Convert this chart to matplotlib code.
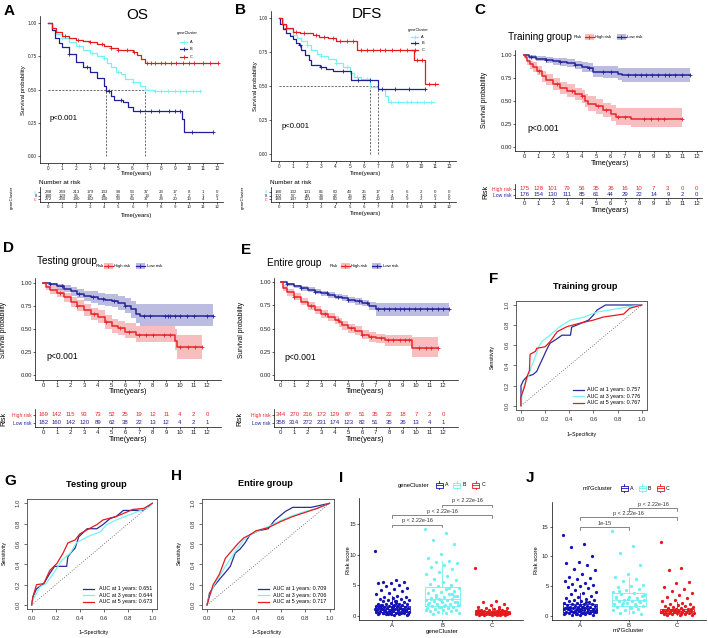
import numpy as np
import matplotlib
matplotlib.use("Agg")
import matplotlib.pyplot as plt
from matplotlib.patches import Rectangle

plt.rcParams['font.family'] = ['Liberation Sans', 'DejaVu Sans']
plt.rcParams['axes.linewidth'] = 0.5

W, H = 708, 638

NAVY = '#1f1f96'
CYAN = '#74f4f4'
RED = '#e41a1c'

years = list(range(13))

# ---------- A: OS by geneCluster ----------
os_A_t = [0, 0.3, 0.6, 1.0, 1.5, 2.0, 2.5, 3.0, 3.5, 4.0, 4.2, 4.5, 4.8, 5.2, 5.5, 6.0, 6.5, 6.9, 7.5, 10.8]
os_A_s = [1.0, 0.95, 0.92, 0.89, 0.855, 0.83, 0.80, 0.775, 0.755, 0.735, 0.70, 0.67, 0.63, 0.62, 0.58, 0.555, 0.525, 0.495, 0.485, 0.485]
os_B_t = [0, 0.25, 0.5, 0.75, 1.0, 1.5, 2.0, 2.5, 3.0, 3.5, 4.0, 4.15, 4.5, 4.7, 5.3, 5.7, 6.0, 9.5, 9.65, 11.7]
os_B_s = [1.0, 0.95, 0.89, 0.85, 0.82, 0.77, 0.71, 0.67, 0.63, 0.585, 0.53, 0.49, 0.45, 0.42, 0.405, 0.37, 0.34, 0.28, 0.18, 0.18]
os_C_t = [0, 0.3, 0.6, 1.0, 1.5, 2.0, 2.5, 3.0, 3.5, 4.0, 4.5, 5.0, 5.5, 6.0, 6.3, 6.6, 6.9, 12.1]
os_C_s = [1.0, 0.96, 0.93, 0.90, 0.885, 0.875, 0.865, 0.855, 0.84, 0.825, 0.81, 0.80, 0.795, 0.78, 0.76, 0.73, 0.70, 0.70]
os_A_cens = [1.0, 2.2, 3.1, 4.0, 5.0, 6.0, 7.6, 8.0, 8.5, 9.0, 9.4, 9.8, 10.3, 10.8]
os_B_cens = [1.5, 2.8, 4.3, 5.2, 6.5, 7.3, 7.9, 8.6, 9.0, 9.4, 10.2, 11.7]
os_C_cens = [1.2, 2.1, 3.0, 3.8, 4.5, 5.0, 5.6, 6.1, 7.0, 7.3, 7.6, 8.0, 8.3, 8.7, 9.1, 9.6, 10.0, 10.4, 11.0, 11.5, 12.1]
os_risk_A = [288, 249, 213, 179, 133, 94, 53, 37, 23, 17, 8, 1, 0]
os_risk_B = [180, 129, 95, 62, 41, 26, 17, 13, 8, 7, 2, 1, 0]
os_risk_C = [272, 230, 190, 162, 130, 90, 63, 37, 28, 20, 10, 4, 1]

# ---------- B: DFS by geneCluster ----------
dfs_A_t = [0, 0.3, 0.6, 1.0, 1.3, 1.6, 2.0, 2.3, 2.7, 3.0, 3.5, 4.0, 4.5, 5.0, 5.3, 5.8, 6.4, 7.0, 7.5, 7.7, 10.9]
dfs_A_s = [1.0, 0.95, 0.92, 0.88, 0.855, 0.83, 0.80, 0.77, 0.74, 0.72, 0.70, 0.67, 0.645, 0.60, 0.57, 0.55, 0.495, 0.48, 0.43, 0.385, 0.385]
dfs_B_t = [0, 0.1, 0.3, 0.5, 0.8, 1.0, 1.2, 1.4, 1.6, 1.85, 2.1, 2.3, 2.9, 3.3, 3.8, 5.1, 7.0, 10.3]
dfs_B_s = [1.0, 0.96, 0.92, 0.89, 0.87, 0.85, 0.82, 0.80, 0.77, 0.73, 0.69, 0.655, 0.64, 0.625, 0.613, 0.547, 0.478, 0.478]
dfs_C_t = [0, 0.2, 0.5, 1.0, 1.5, 2.0, 2.4, 2.8, 3.5, 4.0, 5.5, 9.5, 10.3, 11.2]
dfs_C_s = [1.0, 0.96, 0.925, 0.90, 0.895, 0.89, 0.875, 0.865, 0.855, 0.83, 0.765, 0.69, 0.52, 0.52]
dfs_A_cens = [1.0, 2.0, 3.0, 4.0, 4.8, 5.5, 6.2, 7.9, 8.4, 9.0, 9.3, 9.7, 10.2, 10.7]
dfs_B_cens = [1.5, 3.0, 4.5, 5.6, 6.4, 7.3, 8.2, 9.2, 10.3]
dfs_C_cens = [0.5, 1.2, 1.8, 2.6, 3.2, 3.8, 4.3, 4.8, 5.2, 5.8, 6.2, 6.6, 7.1, 7.5, 8.0, 8.5, 9.0, 9.7, 10.1, 10.6, 11.0]
dfs_risk_A = [180, 132, 101, 86, 60, 43, 25, 17, 9, 6, 2, 0, 0]
dfs_risk_B = [102, 57, 44, 34, 22, 15, 12, 6, 4, 2, 1, 0, 0]
dfs_risk_C = [189, 147, 121, 98, 80, 52, 30, 20, 13, 9, 2, 1, 0]

# ---------- C: training group ----------
tr_low_t = [0, 0.3, 0.8, 1.5, 2.0, 2.5, 3.0, 3.5, 4.0, 4.4, 4.8, 5.5, 6.5, 6.8, 11.5]
tr_low_s = [1.0, 0.98, 0.96, 0.945, 0.93, 0.925, 0.91, 0.89, 0.87, 0.86, 0.82, 0.81, 0.79, 0.78, 0.78]
tr_low_hi = [1.0, 1.0, 0.99, 0.98, 0.97, 0.965, 0.955, 0.94, 0.925, 0.915, 0.885, 0.875, 0.86, 0.86, 0.86]
tr_low_lo = [1.0, 0.96, 0.93, 0.91, 0.895, 0.885, 0.87, 0.845, 0.82, 0.81, 0.765, 0.75, 0.725, 0.71, 0.71]
tr_high_t = [0, 0.05, 0.2, 0.4, 0.6, 0.9, 1.2, 1.5, 2.0, 2.5, 3.0, 3.5, 4.0, 4.2, 4.4, 5.0, 5.5, 6.0, 6.4, 7.4, 11.0]
tr_high_s = [1.0, 0.98, 0.93, 0.90, 0.87, 0.83, 0.77, 0.73, 0.68, 0.64, 0.61, 0.575, 0.55, 0.50, 0.465, 0.44, 0.40, 0.36, 0.325, 0.30, 0.30]
tr_high_hi = [1.0, 1.0, 0.96, 0.94, 0.92, 0.88, 0.83, 0.79, 0.75, 0.71, 0.68, 0.645, 0.62, 0.58, 0.55, 0.52, 0.48, 0.45, 0.42, 0.42, 0.42]
tr_high_lo = [1.0, 0.96, 0.89, 0.85, 0.82, 0.78, 0.71, 0.67, 0.62, 0.58, 0.545, 0.51, 0.48, 0.43, 0.39, 0.36, 0.32, 0.28, 0.24, 0.21, 0.21]
tr_low_cens = [0.5, 1.5, 2.5, 3.5, 4.5, 5.5, 6.0, 7.2, 7.7, 8.1, 8.5, 8.9, 9.3, 9.8, 10.1, 10.5, 11.0, 11.5]
tr_high_cens = [1.0, 2.3, 3.3, 4.0, 5.1, 5.7, 6.5, 7.0, 8.3, 8.8, 9.3, 9.7, 11.0]
tr_risk_high = [175, 128, 101, 79, 56, 35, 26, 16, 10, 7, 3, 0, 0]
tr_risk_low = [176, 154, 130, 111, 85, 61, 44, 29, 22, 14, 9, 2, 0]

# ---------- D: testing group ----------
te_low_t = [0, 0.5, 1.0, 1.5, 2.0, 2.5, 3.0, 3.5, 4.0, 4.5, 5.0, 5.5, 6.0, 6.4, 6.8, 7.1, 12.4]
te_low_s = [1.0, 0.985, 0.96, 0.935, 0.905, 0.88, 0.86, 0.845, 0.825, 0.815, 0.805, 0.78, 0.75, 0.71, 0.665, 0.64, 0.64]
te_low_hi = [1.0, 1.0, 0.99, 0.97, 0.95, 0.93, 0.915, 0.905, 0.89, 0.88, 0.875, 0.855, 0.83, 0.80, 0.77, 0.77, 0.77]
te_low_lo = [1.0, 0.965, 0.925, 0.895, 0.86, 0.83, 0.805, 0.785, 0.76, 0.75, 0.735, 0.705, 0.67, 0.62, 0.565, 0.535, 0.535]
te_high_t = [0, 0.2, 0.5, 1.0, 1.5, 2.0, 2.5, 3.0, 3.5, 4.0, 4.5, 5.0, 5.5, 6.0, 6.8, 9.6, 9.75, 11.6]
te_high_s = [1.0, 0.95, 0.92, 0.885, 0.84, 0.79, 0.745, 0.70, 0.66, 0.625, 0.57, 0.53, 0.505, 0.47, 0.435, 0.37, 0.30, 0.30]
te_high_hi = [1.0, 0.98, 0.96, 0.93, 0.89, 0.85, 0.81, 0.77, 0.73, 0.70, 0.65, 0.61, 0.59, 0.56, 0.53, 0.50, 0.43, 0.43]
te_high_lo = [1.0, 0.92, 0.88, 0.84, 0.79, 0.74, 0.69, 0.64, 0.60, 0.56, 0.50, 0.46, 0.43, 0.40, 0.36, 0.27, 0.17, 0.17]
te_low_cens = [0.5, 1.4, 2.6, 3.6, 4.4, 5.2, 6.0, 7.4, 7.8, 8.9, 9.1, 9.3, 9.6, 10.0, 10.5, 11.0, 12.0, 12.4]
te_high_cens = [1.2, 2.5, 3.7, 4.6, 5.6, 6.3, 7.0, 7.5, 8.0, 8.8, 9.3, 10.0, 10.6, 11.1, 11.6]
te_risk_high = [169, 142, 115, 93, 73, 52, 25, 19, 12, 11, 4, 2, 0]
te_risk_low = [182, 160, 142, 120, 89, 62, 38, 22, 13, 12, 4, 2, 1]

# ---------- E: entire group ----------
en_low_t = [0, 0.5, 1.0, 1.5, 2.0, 2.5, 3.0, 3.5, 4.0, 4.5, 5.0, 5.5, 6.0, 6.5, 7.0, 12.4]
en_low_s = [1.0, 0.98, 0.955, 0.935, 0.92, 0.90, 0.88, 0.865, 0.845, 0.83, 0.81, 0.795, 0.775, 0.745, 0.71, 0.71]
en_low_hi = [1.0, 0.995, 0.975, 0.96, 0.945, 0.93, 0.91, 0.895, 0.875, 0.86, 0.845, 0.83, 0.81, 0.785, 0.78, 0.78]
en_low_lo = [1.0, 0.965, 0.935, 0.91, 0.895, 0.87, 0.85, 0.835, 0.815, 0.80, 0.775, 0.76, 0.74, 0.70, 0.64, 0.64]
en_high_t = [0, 0.2, 0.5, 1.0, 1.5, 2.0, 2.5, 3.0, 3.5, 4.0, 4.3, 4.5, 5.0, 5.5, 6.0, 6.5, 7.0, 7.7, 9.7, 11.6]
en_high_s = [1.0, 0.94, 0.89, 0.845, 0.79, 0.745, 0.70, 0.66, 0.625, 0.595, 0.57, 0.535, 0.505, 0.48, 0.435, 0.415, 0.395, 0.375, 0.29, 0.29]
en_high_hi = [1.0, 0.97, 0.93, 0.88, 0.83, 0.79, 0.745, 0.70, 0.67, 0.64, 0.615, 0.585, 0.55, 0.525, 0.485, 0.465, 0.445, 0.43, 0.415, 0.415]
en_high_lo = [1.0, 0.91, 0.85, 0.81, 0.75, 0.70, 0.655, 0.615, 0.58, 0.55, 0.52, 0.485, 0.455, 0.43, 0.385, 0.36, 0.34, 0.315, 0.19, 0.19]
en_low_cens = [0.5, 1.5, 2.5, 3.4, 4.2, 5.0, 5.8, 6.4, 7.2, 7.6, 8.0, 8.4, 8.8, 9.1, 9.5, 9.9, 10.3, 10.8, 11.2, 11.6, 12.0, 12.4]
en_high_cens = [1.0, 2.2, 3.3, 4.2, 5.2, 6.0, 6.7, 7.4, 7.9, 8.3, 8.8, 9.2, 9.5, 10.2, 10.7, 11.1, 11.6]
en_risk_high = [344, 270, 216, 172, 129, 87, 51, 35, 22, 18, 7, 2, 0]
en_risk_low = [358, 314, 272, 231, 174, 123, 82, 51, 35, 26, 13, 4, 1]

# ---------- ROC curves ----------
roc_labels = ['AUC at 1 years: ', 'AUC at 3 years: ', 'AUC at 5 years: ']
f_auc = ['0.757', '0.776', '0.767']
g_auc = ['0.651', '0.644', '0.673']
h_auc = ['0.709', '0.706', '0.717']

f1_fpr = [0, 0, 0.02, 0.05, 0.1, 0.13, 0.16, 0.18, 0.21, 0.24, 0.28, 0.34, 0.41, 0.42, 0.5, 0.56, 0.6, 0.63, 0.7, 1.0]
f1_tpr = [0, 0.2, 0.25, 0.29, 0.31, 0.34, 0.42, 0.47, 0.55, 0.62, 0.65, 0.70, 0.70, 0.78, 0.82, 0.85, 0.90, 0.95, 1.0, 1.0]
f3_fpr = [0, 0.01, 0.03, 0.06, 0.09, 0.12, 0.14, 0.17, 0.24, 0.32, 0.41, 0.52, 0.63, 0.77, 0.88, 1.0]
f3_tpr = [0, 0.12, 0.22, 0.29, 0.40, 0.49, 0.57, 0.635, 0.70, 0.785, 0.85, 0.88, 0.93, 0.957, 0.98, 1.0]
f5_fpr = [0, 0, 0.03, 0.05, 0.07, 0.075, 0.12, 0.13, 0.2, 0.24, 0.3, 0.38, 0.49, 0.6, 0.68, 0.85, 0.9, 1.0]
f5_tpr = [0, 0.09, 0.19, 0.29, 0.35, 0.51, 0.54, 0.57, 0.585, 0.635, 0.735, 0.785, 0.82, 0.85, 0.88, 0.91, 0.967, 1.0]

g1_fpr = [0, 0.01, 0.04, 0.1, 0.12, 0.15, 0.19, 0.29, 0.3, 0.33, 0.36, 0.39, 0.46, 0.54, 0.59, 0.65, 0.7, 0.76, 0.92, 0.96, 1.0]
g1_tpr = [0, 0.08, 0.16, 0.21, 0.25, 0.31, 0.38, 0.38, 0.475, 0.52, 0.56, 0.67, 0.75, 0.75, 0.79, 0.85, 0.87, 0.93, 0.93, 0.96, 1.0]
g3_fpr = [0, 0.01, 0.07, 0.12, 0.18, 0.25, 0.32, 0.37, 0.46, 0.57, 0.62, 0.7, 0.84, 0.98, 1.0]
g3_tpr = [0, 0.05, 0.18, 0.21, 0.31, 0.44, 0.51, 0.61, 0.67, 0.72, 0.79, 0.836, 0.9, 0.967, 1.0]
g5_fpr = [0, 0.01, 0.04, 0.1, 0.15, 0.21, 0.26, 0.3, 0.36, 0.4, 0.46, 0.54, 0.59, 0.7, 0.84, 0.93, 1.0]
g5_tpr = [0, 0.08, 0.2, 0.21, 0.34, 0.41, 0.51, 0.61, 0.64, 0.70, 0.74, 0.79, 0.836, 0.87, 0.94, 0.95, 1.0]

h1_fpr = [0, 0.02, 0.06, 0.1, 0.15, 0.19, 0.23, 0.27, 0.31, 0.35, 0.42, 0.5, 0.55, 0.6, 0.64, 0.7, 0.85, 1.0]
h1_tpr = [0, 0.115, 0.19, 0.25, 0.32, 0.38, 0.51, 0.55, 0.61, 0.69, 0.73, 0.75, 0.83, 0.88, 0.92, 0.96, 0.96, 1.0]
h3_fpr = [0, 0.02, 0.06, 0.1, 0.15, 0.2, 0.25, 0.3, 0.35, 0.42, 0.5, 0.6, 0.7, 0.8, 0.9, 1.0]
h3_tpr = [0, 0.09, 0.2, 0.28, 0.38, 0.47, 0.56, 0.64, 0.69, 0.73, 0.77, 0.83, 0.88, 0.92, 0.95, 1.0]
h5_fpr = [0, 0.02, 0.05, 0.1, 0.15, 0.2, 0.25, 0.3, 0.35, 0.4, 0.5, 0.6, 0.7, 0.8, 0.9, 1.0]
h5_tpr = [0, 0.08, 0.2, 0.3, 0.46, 0.53, 0.6, 0.66, 0.69, 0.73, 0.76, 0.82, 0.87, 0.91, 0.95, 1.0]

# ---------- I / J: risk score by cluster ----------
clusters = ['A', 'B', 'C']
# box stats: q1, median, q3, whisker low, whisker high
i_stats = [(0.55, 1.05, 1.65, 0.1, 3.3), (1.55, 2.7, 4.75, 0.2, 9.0), (0.3, 0.5, 0.8, 0.05, 1.4)]
j_stats = [(0.67, 1.25, 1.92, 0.1, 3.8), (1.69, 2.65, 3.78, 0.3, 6.6), (0.5, 0.8, 1.13, 0.05, 2.3)]

i_A = [10.6, 5.8, 5.6, 5.5, 5.4, 5.3, 5.1, 4.9, 4.6, 4.4, 4.2, 4.0, 3.7, 3.5, 3.3, 3.1, 3.0, 2.9,
       2.8, 2.7, 2.6, 2.55, 2.4, 2.35, 2.2, 2.15, 2.0, 1.95, 1.9, 1.85, 1.8, 1.72, 1.7, 1.62, 1.6,
       1.55, 1.5, 1.45, 1.4, 1.35, 1.3, 1.25, 1.2, 1.15, 1.1, 1.05, 1.0, 0.95, 0.9, 0.85, 0.8,
       0.75, 0.7, 0.65, 0.6, 0.55, 0.5, 0.45, 0.4, 0.35, 0.3, 0.25, 0.2, 0.15, 0.1, 1.22, 1.02,
       0.82, 0.62, 1.42, 0.92, 0.72, 1.12, 0.52, 1.32, 0.42, 0.33, 2.45, 1.78, 0.88, 0.68, 1.18,
       0.58, 0.78, 0.98, 1.38, 1.58, 0.48, 0.28, 1.08, 2.05, 0.38]
i_B = [14.3, 13.6, 12.5, 11.7, 10.1, 9.4, 9.0, 8.8, 8.6, 8.3, 8.0, 7.6, 7.2, 6.9, 6.5, 6.1, 5.8,
       5.5, 5.2, 5.0, 4.8, 4.6, 4.4, 4.2, 4.0, 3.9, 3.7, 3.5, 3.4, 3.2, 3.0, 2.9, 2.8, 2.7, 2.6,
       2.5, 2.4, 2.3, 2.2, 2.1, 2.0, 1.9, 1.8, 1.7, 1.6, 1.5, 1.4, 1.3, 1.2, 1.1, 1.0, 0.9, 0.8,
       0.7, 0.6, 0.5, 0.4, 0.3, 3.3, 2.6, 1.9, 4.5, 3.1, 2.2, 1.6, 2.75, 3.6, 1.35, 0.95]
i_C = [7.9, 2.4, 2.2, 1.9, 1.7, 1.5, 1.4, 1.3, 1.2, 1.1, 1.0, 0.95, 0.9, 0.85, 0.8, 0.75, 0.7,
       0.65, 0.6, 0.58, 0.55, 0.52, 0.5, 0.48, 0.45, 0.42, 0.4, 0.38, 0.35, 0.32, 0.3, 0.28, 0.25,
       0.22, 0.2, 0.18, 0.15, 0.12, 0.1, 0.08, 0.06, 0.62, 0.44, 0.36, 0.54, 0.66, 0.27, 0.47,
       0.72, 0.33, 0.56, 0.41, 0.24, 0.68, 0.5, 0.39, 0.6, 0.29, 0.78, 0.46, 0.88, 1.05]
j_A = [13.6, 12.1, 11.5, 10.1, 9.0, 8.8, 8.6, 7.9, 7.7, 7.0, 6.6, 6.4, 6.2, 5.9, 5.5, 5.3, 5.1,
       5.0, 4.8, 4.6, 4.3, 4.0, 3.8, 3.6, 3.4, 3.2, 3.0, 2.8, 2.7, 2.6, 2.5, 2.4, 2.3, 2.2, 2.1,
       2.0, 1.95, 1.9, 1.85, 1.8, 1.7, 1.65, 1.6, 1.55, 1.5, 1.45, 1.4, 1.35, 1.3, 1.25, 1.2,
       1.15, 1.1, 1.05, 1.0, 0.95, 0.9, 0.85, 0.8, 0.75, 0.7, 0.65, 0.6, 0.55, 0.5, 0.45, 0.4,
       0.35, 0.3, 0.25, 0.2, 0.15, 0.1, 1.22, 1.02, 0.82, 0.62, 1.42, 0.92, 0.72, 1.12, 0.52, 2.25,
       0.58, 0.78, 0.98, 1.38, 0.48, 0.28, 1.08, 0.38]
j_B = [14.3, 11.7, 10.6, 8.6, 7.1, 6.6, 6.2, 5.8, 5.2, 5.0, 4.8, 4.5, 4.3, 4.0, 3.8, 3.6, 3.4,
       3.2, 3.0, 2.9, 2.7, 2.6, 2.5, 2.4, 2.3, 2.2, 2.0, 1.9, 1.8, 1.6, 1.5, 1.4, 1.2, 1.0, 0.9,
       0.7, 0.5, 0.3, 2.85, 3.1, 1.7, 2.15, 3.5, 1.3, 4.1, 2.55]
j_C = [12.5, 8.1, 7.7, 5.7, 5.5, 4.8, 4.5, 4.2, 3.8, 3.5, 3.2, 2.9, 2.6, 2.4, 2.2, 2.0, 1.9,
       1.8, 1.7, 1.6, 1.5, 1.4, 1.3, 1.2, 1.1, 1.05, 1.0, 0.95, 0.9, 0.85, 0.8, 0.75, 0.7, 0.65,
       0.6, 0.55, 0.5, 0.45, 0.4, 0.35, 0.3, 0.25, 0.2, 0.15, 0.1, 0.88, 0.72, 0.64, 0.92, 0.58,
       1.12, 0.78, 0.42, 0.68, 0.98, 0.52, 0.33, 1.25]
i_pairs = [((1, 2), 'p < 2.22e-16'), ((1, 3), 'p < 2.22e-16'), ((2, 3), 'p < 2.22e-16')]
j_pairs = [((1, 2), '1e-15'), ((1, 3), 'p < 2.22e-16'), ((2, 3), 'p < 2.22e-16')]

# ---------- layout helpers ----------
fig = plt.figure(figsize=(W / 100, H / 100), dpi=100)
ov = fig.add_axes([0, 0, 1, 1], zorder=10)
ov.set_xlim(0, W)
ov.set_ylim(H, 0)
ov.axis('off')


def px_axes(xp, xv, yp, yv, xlim, ylim):
    # place an axes so that data values xv/yv land on pixel positions xp/yp
    sx = (xp[1] - xp[0]) / (xv[1] - xv[0])
    sy = (yp[1] - yp[0]) / (yv[1] - yv[0])
    left = xp[0] + (xlim[0] - xv[0]) * sx
    right = xp[0] + (xlim[1] - xv[0]) * sx
    top = yp[0] + (ylim[1] - yv[0]) * sy
    bottom = yp[0] + (ylim[0] - yv[0]) * sy
    ax = fig.add_axes([left / W, 1 - bottom / H, (right - left) / W, (bottom - top) / H])
    ax.set_xlim(xlim)
    ax.set_ylim(ylim)
    ax.patch.set_alpha(0)
    return ax


def txt(x, y, s, fs, ha='left', va='center', color='black', rot=0, weight='normal'):
    ov.text(x, y, s, fontsize=fs, ha=ha, va=va, color=color, rotation=rot, fontweight=weight)


def classic(ax, fs, pad=0.6):
    for side in ['top', 'right']:
        ax.spines[side].set_visible(False)
    ax.tick_params(labelsize=fs, length=1.5, width=0.5, pad=pad, colors='#222')


def km_axes(xp, yp, xlim, fs):
    ax = px_axes(xp, (0, 12), yp, (0, 1), xlim, (-0.05, 1.05))
    classic(ax, fs)
    ax.set_xticks(years)
    ax.set_yticks([0, 0.25, 0.5, 0.75, 1.0])
    ax.set_yticklabels(['0.00', '0.25', '0.50', '0.75', '1.00'])
    return ax


def km_curve(ax, t, s, color, lw, cens, ms, lo=None, hi=None):
    if lo is not None:
        ax.fill_between(t, lo, hi, step='post', color=color, alpha=0.3, lw=0)
    ax.step(t, s, where='post', color=color, lw=lw)
    idx = np.searchsorted(t, cens, side='right') - 1
    ax.plot(cens, np.array(s)[idx], '+', color=color, ms=ms, mew=0.6)


def median_lines(ax, curves):
    meds = []
    for t, s in curves:
        s = np.array(s)
        below = np.nonzero(s <= 0.5)[0]
        if len(below):
            meds.append(t[below[0]])
    if meds:
        ax.plot([0, max(meds)], [0.5, 0.5], ls=(0, (3, 2)), color='#333', lw=0.5)
        for m in meds:
            ax.plot([m, m], [0, 0.5], ls=(0, (3, 2)), color='#333', lw=0.5)


def risk_table(xp, xlim, top, bottom, rows, labels, colors, counts, fs, lab_fs, num_colors):
    ax = px_axes(xp, (0, 12), (bottom, top), (bottom, top), xlim, (bottom, top))
    classic(ax, fs, pad=0.8)
    ax.set_xticks(years)
    ax.set_yticks(rows)
    ax.set_yticklabels(labels, fontsize=lab_fs)
    for tl, c in zip(ax.get_yticklabels(), colors):
        tl.set_color(c)
    for row, cnt, col in zip(rows, counts, num_colors):
        for yr, n in zip(years, cnt):
            ax.text(yr, row, str(n), ha='center', va='center', fontsize=fs, color=col)
    return ax


# ================= A: OS =================
axA = km_axes((48, 217), (156, 23), (-0.57, 12.4), 3.4)
median_lines(axA, [(os_A_t, os_A_s), (os_B_t, os_B_s), (os_C_t, os_C_s)])
km_curve(axA, os_A_t, os_A_s, CYAN, 0.9, os_A_cens, 2.2)
km_curve(axA, os_B_t, os_B_s, NAVY, 0.9, os_B_cens, 2.2)
km_curve(axA, os_C_t, os_C_s, RED, 0.9, os_C_cens, 2.2)
risk_table((48, 217), (-0.57, 12.4), 187, 202, [192, 195.7, 199.3], ['A', 'B', 'C'],
           [CYAN, NAVY, RED], [os_risk_A, os_risk_B, os_risk_C], 3.2, 2.6, ['#222'] * 3)

# ================= B: DFS =================
axB = km_axes((278.7, 449.3), (154.3, 18.3), (-0.56, 12.5), 3.4)
median_lines(axB, [(dfs_A_t, dfs_A_s), (dfs_B_t, dfs_B_s), (dfs_C_t, dfs_C_s)])
km_curve(axB, dfs_A_t, dfs_A_s, CYAN, 0.9, dfs_A_cens, 2.2)
km_curve(axB, dfs_B_t, dfs_B_s, NAVY, 0.9, dfs_B_cens, 2.2)
km_curve(axB, dfs_C_t, dfs_C_s, RED, 0.9, dfs_C_cens, 2.2)
risk_table((278.7, 449.3), (-0.56, 12.5), 187, 202, [191.7, 195.7, 199.3], ['A', 'B', 'C'],
           [CYAN, NAVY, RED], [dfs_risk_A, dfs_risk_B, dfs_risk_C], 3.2, 2.6, ['#222'] * 3)

for x0, y0, title, lx, ly, lys in [(137, 15, 'OS', 177, 33.3, [41.7, 49.3, 56.7]),
                                   (366.7, 14, 'DFS', 408.3, 30, [37.3, 43.3, 50])]:
    txt(x0, y0, title, 11, ha='center')
    txt(lx, ly, 'geneCluster', 2.8)
    for yy, c, lab in zip(lys, [CYAN, NAVY, RED], clusters):
        ov.plot([lx + 3, lx + 10], [yy, yy], color=c, lw=0.9)
        ov.plot([lx + 6.5], [yy], '+', color=c, ms=2.2, mew=0.6)
        txt(lx + 13, yy, lab, 2.8)

for cx, xl, yl, pv in [(137, 23.3, 90, (50, 118)), (366, 255, 86, (281.7, 126.7))]:
    txt(cx, 173, 'Time(years)', 4.2, ha='center')
    txt(xl, yl, 'Survival probability', 4.2, ha='center', rot=90)
    txt(pv[0], pv[1], 'p<0.001', 5.6)
txt(39, 183, 'Number at risk', 4.6)
txt(270, 183, 'Number at risk', 4.6)
txt(137, 215, 'Time(years)', 4.2, ha='center')
txt(366, 214, 'Time(years)', 4.2, ha='center')
txt(12, 197, 'geneCluster', 3.2, ha='center', rot=90)
txt(243.3, 197, 'geneCluster', 3.2, ha='center', rot=90)

# ================= C / D / E: risk groups =================
km_sets = [
    dict(xp=(524.3, 696.7), yp=(146.7, 55), xlim=(-0.65, 12.35),
         low=(tr_low_t, tr_low_s, tr_low_lo, tr_low_hi, tr_low_cens),
         high=(tr_high_t, tr_high_s, tr_high_lo, tr_high_hi, tr_high_cens),
         risk=(tr_risk_high, tr_risk_low), rt=(184, 198, [189, 195]),
         title=(508, 37, 'Training group'), leg=(573.3, 37, 589, 595, 621, 627),
         ylab=(485, 100), xlab=(610, 163.3), pval=(527.7, 128.3),
         rlab=(486, 191.5), rxlab=(610, 211)),
    dict(xp=(43.3, 207.3), yp=(375, 282.7), xlim=(-0.6, 13.0),
         low=(te_low_t, te_low_s, te_low_lo, te_low_hi, te_low_cens),
         high=(te_high_t, te_high_s, te_high_lo, te_high_hi, te_high_cens),
         risk=(te_risk_high, te_risk_low), rt=(409, 426.5, [415, 423]),
         title=(36.7, 260.7, 'Testing group'), leg=(95.7, 266, 108, 114.3, 140.3, 146.7),
         ylab=(4, 330), xlab=(128, 391.7), pval=(46.7, 356.7),
         rlab=(4, 419), rxlab=(128, 439.5)),
    dict(xp=(280.7, 443.3), yp=(375, 282.3), xlim=(-0.5, 13.05),
         low=(en_low_t, en_low_s, en_low_lo, en_low_hi, en_low_cens),
         high=(en_high_t, en_high_s, en_high_lo, en_high_hi, en_high_cens),
         risk=(en_risk_high, en_risk_low), rt=(409, 426.5, [415, 423]),
         title=(267, 262.7, 'Entire group'), leg=(329.3, 266, 345, 350.7, 376.5, 383.3),
         ylab=(241.7, 330), xlab=(365, 391.7), pval=(284.3, 357.3),
         rlab=(240, 419), rxlab=(365, 439.5)),
]
HI_C = '#e8262a'
LO_C = '#23239b'
for k in km_sets:
    ax = km_axes(k['xp'], k['yp'], k['xlim'], 4.2)
    t, s, lo, hi, cens = k['low']
    km_curve(ax, t, s, LO_C, 1.1, cens, 2.8, lo, hi)
    t, s, lo, hi, cens = k['high']
    km_curve(ax, t, s, HI_C, 1.1, cens, 2.8, lo, hi)
    top, bottom, rows = k['rt']
    risk_table(k['xp'], k['xlim'], top, bottom, rows, ['High risk', 'Low risk'], [HI_C, LO_C],
               list(k['risk']), 4.3, 3.6, [HI_C, LO_C])
    tx, ty, tt = k['title']
    txt(tx, ty, tt, 7.2)
    lx, ly, ic1, t1, ic2, t2 = k['leg']
    txt(lx, ly, 'Risk', 3.1)
    for icx, tlx, c, lab in [(ic1, t1, HI_C, 'High risk'), (ic2, t2, LO_C, 'Low risk')]:
        ov.add_patch(Rectangle((icx - 4.5, ly - 3), 9, 6, color=c, alpha=0.3, lw=0))
        ov.plot([icx - 4.5, icx + 4.5], [ly, ly], color=c, lw=0.9)
        ov.plot([icx], [ly], '+', color=c, ms=2.5, mew=0.6)
        txt(tlx, ly, lab, 3.1)
    txt(k['ylab'][0], k['ylab'][1], 'Survival probability', 4.8, ha='center', rot=90)
    txt(k['xlab'][0], k['xlab'][1], 'Time(years)', 5.2, ha='center')
    txt(k['pval'][0], k['pval'][1], 'p<0.001', 6.2)
    txt(k['rlab'][0], k['rlab'][1], 'Risk', 5.2, ha='center', rot=90)
    txt(k['rxlab'][0], k['rxlab'][1], 'Time(years)', 5.2, ha='center')

# ================= F / G / H: ROC =================
roc_sets = [
    dict(xp=(521, 641.7), yp=(405.7, 305),
         curves=[(f1_fpr, f1_tpr), (f3_fpr, f3_tpr), (f5_fpr, f5_tpr)], auc=f_auc,
         title=(585, 286.7, 'Training group'), leg=(573, 587, [390, 396.3, 402.6]),
         ylab=(492.7, 356.7), xlab=(582, 434.3)),
    dict(xp=(31.7, 152.3), yp=(605, 503.3),
         curves=[(g1_fpr, g1_tpr), (g3_fpr, g3_tpr), (g5_fpr, g5_tpr)], auc=g_auc,
         title=(96.7, 484.3, 'Testing group'), leg=(83.3, 99, [588.5, 595, 601.5]),
         ylab=(4, 553.3), xlab=(93.3, 632.3)),
    dict(xp=(207, 329.5), yp=(605, 503.3),
         curves=[(h1_fpr, h1_tpr), (h3_fpr, h3_tpr), (h5_fpr, h5_tpr)], auc=h_auc,
         title=(265.7, 483.3, 'Entire group'), leg=(257.7, 273, [588.5, 595, 601.5]),
         ylab=(179, 553.3), xlab=(266.7, 632.3)),
]
roc_colors = ['#2b2b9c', CYAN, RED]
ticks01 = [0, 0.2, 0.4, 0.6, 0.8, 1.0]
for r in roc_sets:
    ax = px_axes(r['xp'], (0, 1), r['yp'], (0, 1), (-0.04, 1.04), (-0.04, 1.04))
    for sp in ax.spines.values():
        sp.set_color('#444')
        sp.set_linewidth(0.6)
    ax.set_xticks(ticks01)
    ax.set_yticks(ticks01)
    ax.set_xticklabels(['%.1f' % v for v in ticks01])
    ax.set_yticklabels(['%.1f' % v for v in ticks01], rotation=90, va='center')
    ax.tick_params(axis='x', labelsize=4.3, length=2.2, width=0.5, pad=3.0, colors='#333')
    ax.tick_params(axis='y', labelsize=4.3, length=2.2, width=0.5, pad=2.4, colors='#333')
    ax.plot([0, 1], [0, 1], ls=(0, (1, 2)), color='#555', lw=0.6)
    for (fpr, tpr), c in zip(r['curves'], roc_colors):
        ax.plot(fpr, tpr, color=c, lw=0.9)
    tx, ty, tt = r['title']
    txt(tx, ty, tt, 6.6, ha='center', weight='bold')
    lx, tlx, lys = r['leg']
    for yy, c, lab, auc in zip(lys, roc_colors, roc_labels, r['auc']):
        ov.plot([lx, lx + 11], [yy, yy], color=c, lw=0.9)
        txt(tlx, yy, lab + auc, 3.9)
    txt(r['ylab'][0], r['ylab'][1], 'Sensitivity', 3.8, ha='center', rot=90)
    txt(r['xlab'][0], r['xlab'][1], '1\u2212Specificity', 3.8, ha='center')

# ================= I / J: boxplots =================
box_sets = [
    dict(xp=(392.3, 492.3), yp=(615.7, 524.3), xlim=(0.34, 3.62), ylim=(-0.7, 19.3),
         stats=i_stats, pts=[i_A, i_B, i_C], pairs=i_pairs, levels=[14.9, 16.5, 18.2],
         name='geneCluster', leg=(398, 485, [439, 456.7, 475.5]), xlab=(442, 632), ylab=(348.3, 560)),
    dict(xp=(580, 677.3), yp=(615.7, 526.7), xlim=(0.42, 3.58), ylim=(-0.72, 19.2),
         stats=j_stats, pts=[j_A, j_B, j_C], pairs=j_pairs, levels=[14.9, 16.6, 18.1],
         name='m7Gcluster', leg=(583, 488.3, [624, 642, 660]), xlab=(628, 631), ylab=(536.7, 560)),
]
box_colors = ['#1414b4', '#70f0f0', '#e41a1c']
for b in box_sets:
    ax = px_axes(b['xp'], (1, 3), b['yp'], (0, 15), b['xlim'], b['ylim'])
    classic(ax, 4.3, pad=0.8)
    st = [dict(q1=q1, med=md, q3=q3, whislo=wl, whishi=wh, fliers=[])
          for q1, md, q3, wl, wh in b['stats']]
    bp = ax.bxp(st, positions=[1, 2, 3], widths=0.7, showfliers=False, showcaps=False,
                manage_ticks=False)
    ax.set_xlim(b['xlim'])
    ax.set_ylim(b['ylim'])
    ax.set_xticks([1, 2, 3])
    ax.set_xticklabels(clusters)
    ax.set_yticks([0, 5, 10, 15])
    for i, c in enumerate(box_colors):
        bp['boxes'][i].set(color=c, lw=0.6)
        bp['medians'][i].set(color=c, lw=0.6)
        bp['whiskers'][2 * i].set(color=c, lw=0.6)
        bp['whiskers'][2 * i + 1].set(color=c, lw=0.6)
    for i, (vals, c) in enumerate(zip(b['pts'], box_colors)):
        n = len(vals)
        jit = ((np.arange(n) * 0.6180339) % 1 - 0.5) * 0.68
        ax.scatter(i + 1 + jit, vals, s=5.5, color=c, lw=0, zorder=3)
    for ((a1, a2), lab), lev in zip(b['pairs'], b['levels']):
        ax.plot([a1, a1, a2, a2], [lev - 0.4, lev, lev, lev - 0.4], color='#555', lw=0.5)
        ax.text((a1 + a2) / 2, lev + 0.25, lab, ha='center', va='bottom', fontsize=4.0, color='#333')
    lx, ly, icons = b['leg']
    txt(lx, ly, b['name'], 4.2)
    for icx, c, lab in zip(icons, box_colors, clusters):
        ov.add_patch(Rectangle((icx - 3.5, ly - 2.5), 7, 5, fill=False, ec=c, lw=0.6))
        ov.plot([icx - 3.5, icx + 3.5], [ly, ly], color=c, lw=0.6)
        ov.plot([icx, icx], [ly - 4, ly - 2.5], color=c, lw=0.6)
        ov.plot([icx, icx], [ly + 2.5, ly + 4], color=c, lw=0.6)
        txt(icx + 6, ly, lab, 3.8)
    txt(b['xlab'][0], b['xlab'][1], b['name'], 4.4, ha='center')
    txt(b['ylab'][0], b['ylab'][1], 'Risk score', 4.2, ha='center', rot=90)

# panel letters
for lab, x, y in [('A', 9, 11), ('B', 240, 10), ('C', 480, 10), ('D', 8.3, 248), ('E', 246, 250),
                  ('F', 494, 279), ('G', 10, 481), ('H', 176, 476), ('I', 341, 478), ('J', 530, 478)]:
    txt(x, y, lab, 11, ha='center', weight='bold')

fig.savefig('out.png', dpi=100)
